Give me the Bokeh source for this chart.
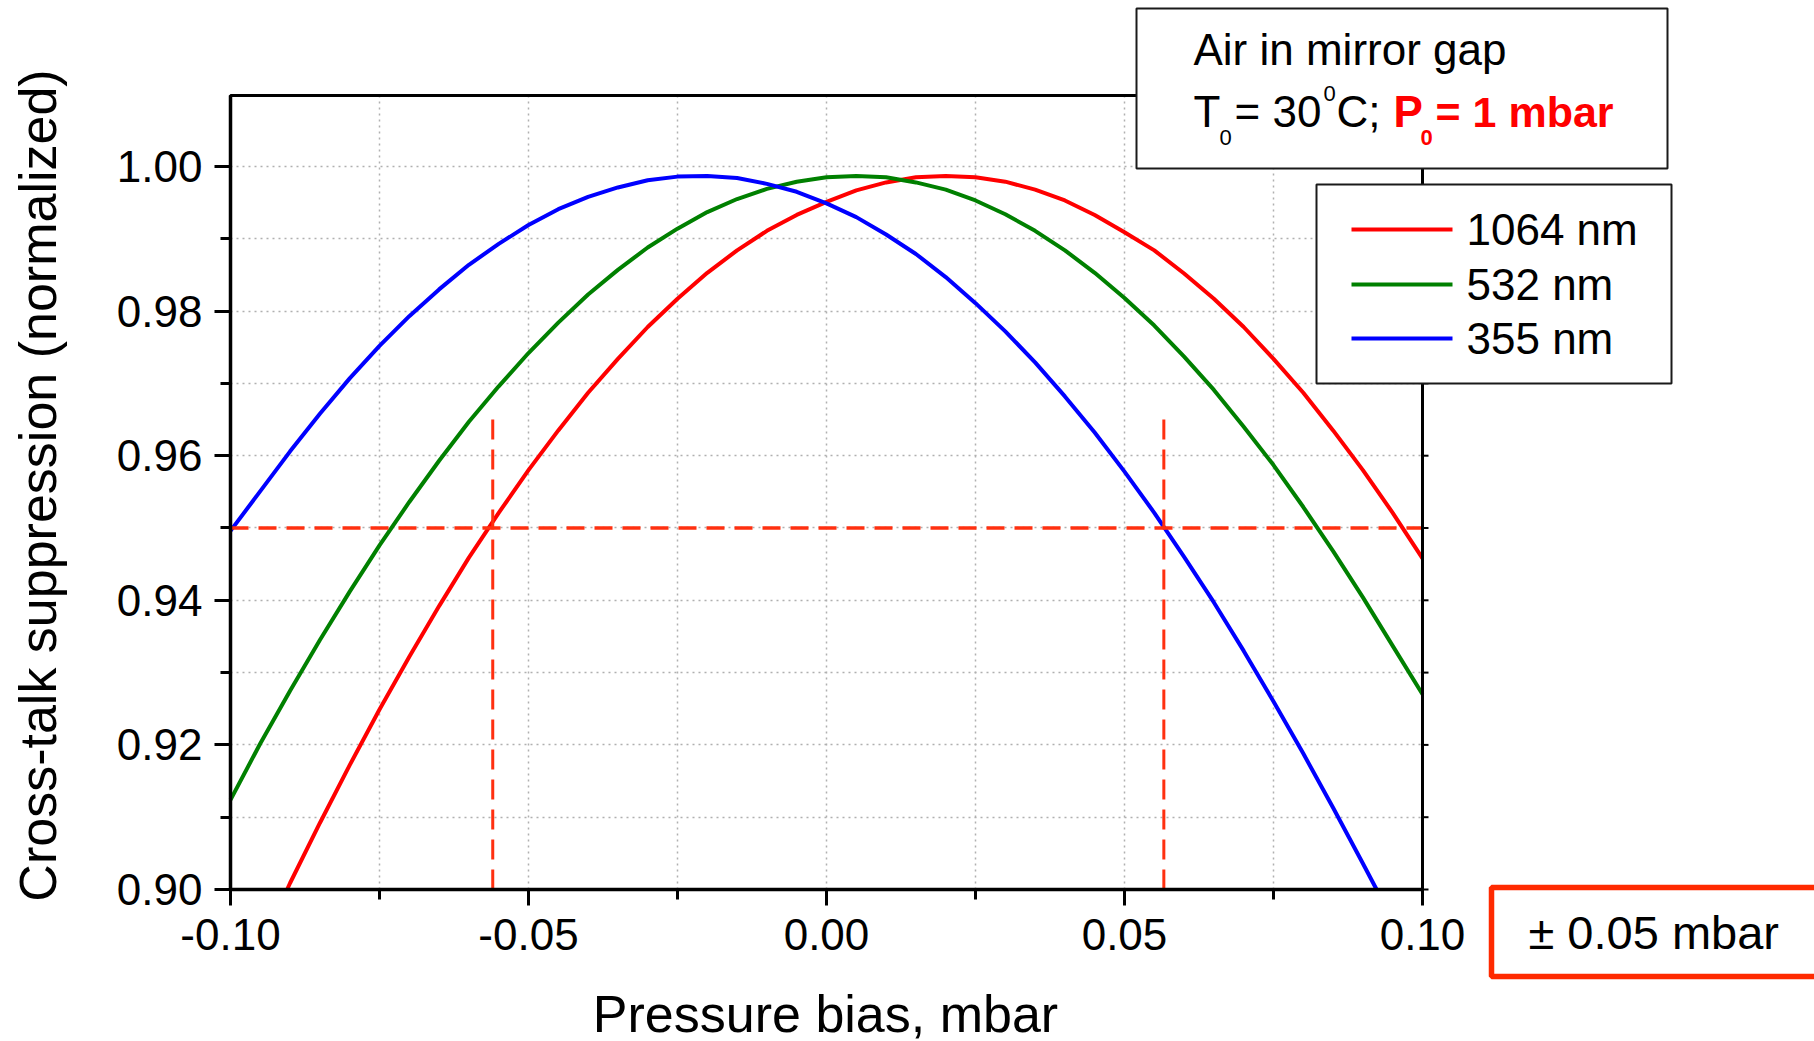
from math import pi
from bokeh.plotting import figure
from bokeh.models import (FixedTicker, NumeralTickFormatter, Range1d,
                          Label, BoxAnnotation, Arrow, Grid)
from bokeh.embed import file_html
from bokeh.resources import INLINE

# ---------------- data ----------------
x_1064 = [-0.0905, -0.090, -0.085, -0.080, -0.075, -0.070, -0.065, -0.060, -0.055,
          -0.050, -0.045, -0.040, -0.035, -0.030, -0.025, -0.020, -0.015, -0.010, -0.005,
          0.000, 0.005, 0.010, 0.015, 0.020, 0.025, 0.030, 0.035, 0.040, 0.045,
          0.050, 0.055, 0.060, 0.065, 0.070, 0.075, 0.080, 0.085, 0.090, 0.095, 0.100]
y_1064 = [0.9000, 0.9009, 0.9092, 0.9172, 0.9249, 0.9322, 0.9392, 0.9459, 0.9521,
          0.9580, 0.9635, 0.9687, 0.9734, 0.9778, 0.9817, 0.9853, 0.9884, 0.9911, 0.9933,
          0.9951, 0.9967, 0.9978, 0.9985, 0.9987, 0.9985, 0.9979, 0.9968, 0.9953, 0.9933,
          0.9909, 0.9884, 0.9852, 0.9817, 0.9778, 0.9734, 0.9687, 0.9635, 0.9580, 0.9521, 0.9458]

x_532 = [-0.100, -0.095, -0.090, -0.085, -0.080, -0.075, -0.070, -0.065, -0.060, -0.055,
         -0.050, -0.045, -0.040, -0.035, -0.030, -0.025, -0.020, -0.015, -0.010, -0.005,
         0.000, 0.005, 0.010, 0.015, 0.020, 0.025, 0.030, 0.035, 0.040, 0.045,
         0.050, 0.055, 0.060, 0.065, 0.070, 0.075, 0.080, 0.085, 0.090, 0.095, 0.100]
y_532 = [0.9124, 0.9202, 0.9275, 0.9345, 0.9412, 0.9476, 0.9536, 0.9593, 0.9647, 0.9696,
         0.9742, 0.9784, 0.9823, 0.9857, 0.9888, 0.9914, 0.9937, 0.9955, 0.9969, 0.9979,
         0.9985, 0.9987, 0.9985, 0.9978, 0.9968, 0.9953, 0.9934, 0.9911, 0.9884, 0.9853,
         0.9818, 0.9780, 0.9737, 0.9691, 0.9640, 0.9587, 0.9529, 0.9468, 0.9404, 0.9337, 0.9270]

x_355 = [-0.100, -0.095, -0.090, -0.085, -0.080, -0.075, -0.070, -0.065, -0.060, -0.055,
         -0.050, -0.045, -0.040, -0.035, -0.030, -0.025, -0.020, -0.015, -0.010, -0.005,
         0.000, 0.005, 0.010, 0.015, 0.020, 0.025, 0.030, 0.035, 0.040, 0.045,
         0.050, 0.055, 0.060, 0.065, 0.070, 0.075, 0.080, 0.085, 0.090, 0.0923]
y_355 = [0.9496, 0.9551, 0.9606, 0.9658, 0.9707, 0.9752, 0.9793, 0.9830, 0.9864, 0.9893,
         0.9919, 0.9941, 0.9958, 0.9971, 0.9981, 0.9986, 0.9987, 0.9984, 0.9976, 0.9965,
         0.9949, 0.9930, 0.9906, 0.9879, 0.9847, 0.9811, 0.9772, 0.9729, 0.9682, 0.9632,
         0.9578, 0.9521, 0.9460, 0.9397, 0.9330, 0.9260, 0.9188, 0.9113, 0.9036, 0.9000]

series_names = ["1064 nm", "532 nm", "355 nm"]
series_colors = ["#FF0000", "#008000", "#0000FF"]

threshold = 0.95
tolerance_x = [-0.056, 0.0566]
tolerance_top = 0.965

x_ticks = [-0.10, -0.05, 0.0, 0.05, 0.10]
x_minor = [-0.075, -0.025, 0.025, 0.075]
y_ticks = [0.90, 0.92, 0.94, 0.96, 0.98, 1.00]
y_minor = [0.91, 0.93, 0.95, 0.97, 0.99]

# ---------------- geometry ----------------
W, H = 1814, 1041
# pixel positions of the data window inside the canvas
PL, PR, PT, PB = 230, 1422, 95, 889
XA, XB = -0.10, 0.10          # data x at PL, PR
YA, YB = 0.90, 1.00982        # data y at PB, PT


def sx(px):
    return XA + (px - PL) * (XB - XA) / (PR - PL)


def sy(py):
    return YA + (PB - py) * (YB - YA) / (PB - PT)


FONT = "Liberation Sans"

# the frame covers the whole canvas so annotations outside the data window are not clipped
p = figure(width=W, height=H, output_backend="svg", toolbar_location=None, tools="",
           x_range=Range1d(sx(0), sx(W)), y_range=Range1d(sy(H), sy(0)),
           min_border=0, min_border_left=0, min_border_right=0,
           min_border_top=0, min_border_bottom=0)
p.outline_line_color = None
p.background_fill_color = "white"
p.border_fill_color = "white"

xt = FixedTicker(ticks=x_ticks, minor_ticks=x_minor)
yt = FixedTicker(ticks=y_ticks, minor_ticks=y_minor)

# main axes, fixed at the data window edges
xa = p.xaxis[0]
ya = p.yaxis[0]
xa.fixed_location = YA
ya.fixed_location = XA
xa.bounds = (XA, XB)
ya.bounds = (YA, YB)
xa.ticker = xt
ya.ticker = yt
xa.formatter = NumeralTickFormatter(format="0.00")
ya.formatter = NumeralTickFormatter(format="0.00")
for ax in (xa, ya):
    ax.axis_line_width = 3.5
    ax.axis_line_color = "black"
    ax.major_tick_line_width = 3
    ax.minor_tick_line_width = 3
    ax.major_tick_in = 0
    ax.minor_tick_in = 0
    ax.major_tick_out = 16
    ax.minor_tick_out = 10
    ax.major_label_text_font = FONT
    ax.major_label_text_font_size = "44px"
    ax.major_label_text_color = "black"
xa.major_label_standoff = 13
ya.major_label_standoff = 12

# grids limited to the data window
GRID_COL = "#b0b0b0"
has_cross = "cross_bounds" in Grid.properties()
for g, cb in ((p.xgrid[0], (YA, YB)), (p.ygrid[0], (XA, XB))):
    if has_cross:
        g.cross_bounds = cb
        g.grid_line_color = GRID_COL
        g.grid_line_dash = "2 4"
        g.grid_line_width = 1.5
        g.minor_grid_line_color = GRID_COL
        g.minor_grid_line_dash = "2 4"
        g.minor_grid_line_width = 1.5
    else:
        g.visible = False
if not has_cross:
    gx = x_ticks + x_minor
    gy = y_ticks + y_minor
    p.segment(x0=gx, y0=[YA] * len(gx), x1=gx, y1=[YB] * len(gx), line_color=GRID_COL,
              line_dash="2 4", line_width=1.5, level="underlay")
    p.segment(x0=[XA] * len(gy), y0=gy, x1=[XB] * len(gy), y1=gy, line_color=GRID_COL,
              line_dash="2 4", line_width=1.5, level="underlay")

# curves
for xs, ys, c in zip([x_1064, x_532, x_355], [y_1064, y_532, y_355], series_colors):
    p.line(xs, ys, line_color=c, line_width=4)

# threshold and tolerance lines
dash_col = "#FF3010"
p.segment(x0=[XA], y0=[threshold], x1=[XB], y1=[threshold],
          line_color=dash_col, line_width=3.5, line_dash="18 10")
p.segment(x0=tolerance_x, y0=[tolerance_top] * 2, x1=tolerance_x, y1=[YA] * 2,
          line_color=dash_col, line_width=3, line_dash="20 10")

# frame border (top / right) and the small outward ticks on the right edge
p.add_layout(BoxAnnotation(left=XA, right=XB, top=YB, bottom=YA, fill_alpha=0.0,
                           line_color="black", line_alpha=1.0, line_width=3))
rt = y_ticks + y_minor
p.segment(x0=[XB] * len(rt), y0=rt, x1=[sx(PR + 6)] * len(rt), y1=rt,
          line_color="black", line_width=2)


# ---------------- annotations (positions given as canvas pixels, text middle) ----------------
def lab(px, py, text, size="44px", color="black", style="normal",
        align="left", angle=0.0):
    p.add_layout(Label(x=sx(px), y=sy(py), text=text,
                       text_font=FONT, text_font_size=size, text_color=color,
                       text_font_style=style, text_align=align, text_baseline="middle",
                       angle=angle))


def box(l, r, t, b, line_color="#1a1a1a", line_width=2.0, fill=True):
    p.add_layout(BoxAnnotation(left=sx(l), right=sx(r), top=sy(t), bottom=sy(b),
                               fill_color="white", fill_alpha=1.0 if fill else 0.0,
                               line_color=line_color, line_alpha=1.0,
                               line_width=line_width))


# axis titles
lab(825, 1013, "Pressure bias, mbar", size="52px", align="center")
lab(37, 485, "Cross-talk suppression (normalized)", size="52px", align="center", angle=pi / 2)

# info box
box(1136, 1667, 8, 168)
lab(1193, 49, "Air in mirror gap")
lab(1193, 111, "T")
lab(1219, 137, "0", size="22px")
lab(1234, 111, "= 30")
lab(1323, 93, "0", size="22px")
lab(1336, 111, "C;")
lab(1393, 111, "P", color="#FF0000", style="bold")
lab(1420, 137, "0", size="22px", color="#FF0000", style="bold")
lab(1435, 111, "= 1 mbar", size="43px", color="#FF0000", style="bold")

# legend
box(1316, 1671, 184, 383)
legend_y = [229, 284, 338]
for name, c, ly in zip(series_names, series_colors, legend_y):
    p.add_layout(Arrow(end=None, start=None, x_start=sx(1351), y_start=sy(ly),
                       x_end=sx(1452), y_end=sy(ly), line_color=c, line_width=4))
    lab(1466, ly, name)

# tolerance box
box(1491, 1840, 887, 976, line_color="#FF2A00", line_width=5.5, fill=False)
lab(1528, 932, "\u00b1 0.05 mbar", size="47px")

open("out.html", "w").write(file_html(p, INLINE))
